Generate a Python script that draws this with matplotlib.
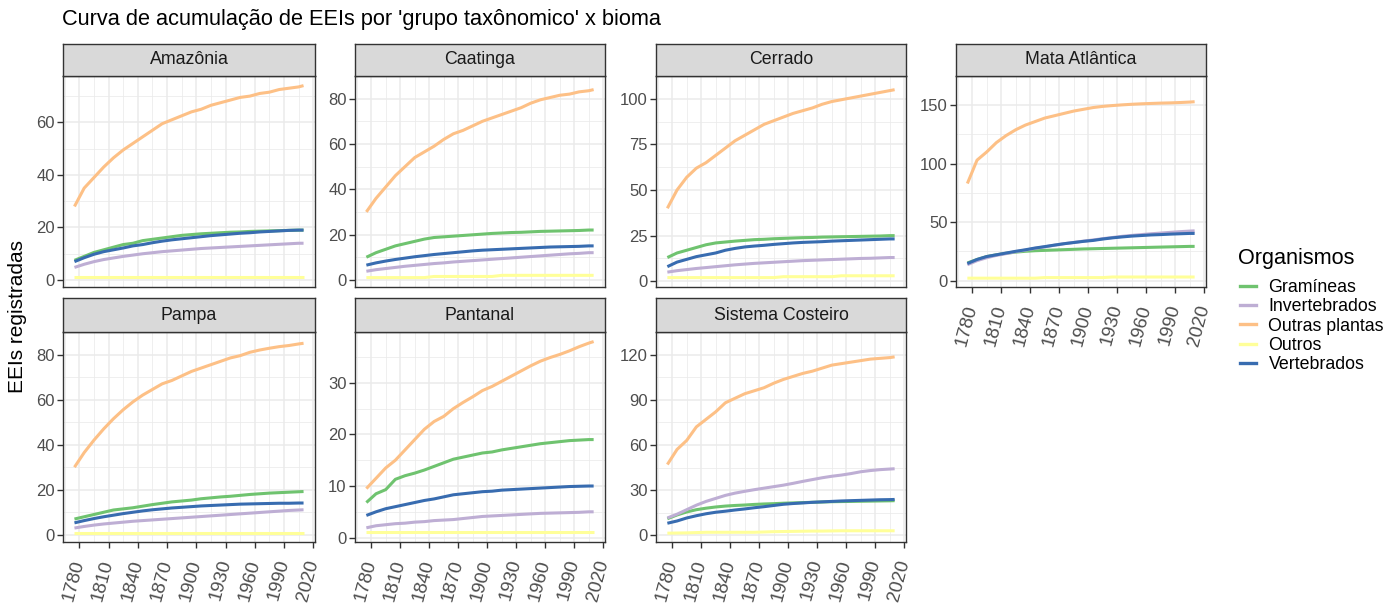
import matplotlib
matplotlib.use("Agg")
import matplotlib.pyplot as plt
from matplotlib.lines import Line2D
import numpy as np

plt.rcParams['font.family'] = ['Liberation Sans', 'DejaVu Sans']

# ---------------- data ----------------
years = [1775, 1785, 1795, 1805, 1815, 1825, 1835, 1845, 1855, 1865, 1875, 1885,
         1895, 1905, 1915, 1925, 1935, 1945, 1955, 1965, 1975, 1985, 1995, 2005, 2010]

series_names = ["Gramíneas", "Invertebrados", "Outras plantas", "Outros", "Vertebrados"]
series_colors = ["#6FC36F", "#BEAED4", "#FDC086", "#FFFF99", "#386CB0"]

biomes = ["Amazônia", "Caatinga", "Cerrado", "Mata Atlântica",
          "Pampa", "Pantanal", "Sistema Costeiro"]

# Amazônia
amz_gram = [7.5, 9, 10.5, 11.5, 12.5, 13.5, 14, 15, 15.5, 16, 16.5, 17, 17.3, 17.6, 17.8, 18, 18.2, 18.3, 18.5, 18.6, 18.7, 18.8, 18.9, 19, 19]
amz_inv = [4.8, 6, 7, 7.8, 8.4, 9, 9.5, 10, 10.4, 10.8, 11.1, 11.4, 11.7, 12, 12.2, 12.4, 12.6, 12.8, 13, 13.2, 13.4, 13.6, 13.8, 14, 14]
amz_outp = [28, 35, 39, 43, 46.5, 49.5, 52, 54.5, 57, 59.5, 61, 62.5, 64, 65, 66.5, 67.5, 68.5, 69.5, 70, 71, 71.5, 72.5, 73, 73.5, 74]
amz_outr = [1] * 25
amz_vert = [7, 8.5, 9.8, 10.8, 11.5, 12.2, 13, 13.5, 14.2, 14.8, 15.3, 15.7, 16.1, 16.5, 16.9, 17.2, 17.5, 17.8, 18, 18.3, 18.5, 18.7, 18.9, 19, 19]

# Caatinga
caa_gram = [10, 12, 13.5, 15, 16, 17, 18, 18.7, 19, 19.3, 19.6, 19.9, 20.2, 20.5, 20.7, 20.9, 21, 21.2, 21.4, 21.5, 21.6, 21.7, 21.8, 22, 22]
caa_inv = [3.8, 4.5, 5, 5.5, 6, 6.4, 6.8, 7.2, 7.5, 7.9, 8.2, 8.5, 8.8, 9.1, 9.4, 9.7, 10, 10.3, 10.6, 10.9, 11.2, 11.5, 11.7, 12, 12]
caa_outp = [30, 36, 41, 46, 50, 54, 56.5, 59, 62, 64.5, 66, 68, 70, 71.5, 73, 74.5, 76, 78, 79.5, 80.5, 81.5, 82, 83, 83.5, 84]
caa_outr = [1, 1, 1, 1, 1, 1, 1, 1.5, 1.5, 1.5, 1.5, 1.5, 1.5, 1.5, 2, 2, 2, 2, 2, 2, 2, 2, 2, 2, 2]
caa_vert = [6.5, 7.5, 8.3, 9, 9.6, 10.2, 10.7, 11.2, 11.6, 12, 12.4, 12.8, 13.1, 13.3, 13.5, 13.7, 13.9, 14.1, 14.3, 14.5, 14.6, 14.7, 14.8, 15, 15]

# Cerrado
cer_gram = [13, 15.5, 17, 18.5, 20, 21, 21.5, 22, 22.4, 22.8, 23, 23.3, 23.5, 23.7, 23.9, 24, 24.2, 24.3, 24.4, 24.5, 24.6, 24.7, 24.8, 25, 25]
cer_inv = [5, 5.8, 6.4, 7, 7.5, 8, 8.5, 9, 9.4, 9.8, 10.1, 10.4, 10.7, 11, 11.3, 11.5, 11.7, 11.9, 12.1, 12.3, 12.5, 12.6, 12.8, 13, 13]
cer_outp = [40, 50, 57, 62, 65, 69, 73, 77, 80, 83, 86, 88, 90, 92, 93.5, 95, 97, 98.5, 99.5, 100.5, 101.5, 102.5, 103.5, 104.5, 105]
cer_outr = [2, 2, 2, 2, 2, 2, 2, 2, 2, 2, 2, 2, 2.5, 2.5, 2.5, 2.5, 2.5, 2.5, 3, 3, 3, 3, 3, 3, 3]
cer_vert = [8, 10.5, 12, 13.5, 14.5, 15.5, 17, 18, 18.8, 19.3, 19.7, 20.2, 20.6, 21, 21.3, 21.5, 21.7, 22, 22.2, 22.4, 22.6, 22.8, 23, 23.2, 23.2]

# Mata Atlântica
mat_gram = [15, 18, 20.5, 22, 23.3, 24.3, 25, 25.5, 25.8, 26.1, 26.4, 26.7, 27, 27.2, 27.4, 27.6, 27.8, 28, 28.2, 28.4, 28.6, 28.8, 29, 29.2, 29.2]
mat_inv = [13.5, 17, 19.5, 21.5, 23, 24.7, 26, 27.5, 28.8, 30.2, 31.5, 32.6, 33.7, 34.7, 35.8, 36.8, 37.8, 38.6, 39.3, 40, 40.6, 41.2, 41.8, 42.3, 42.5]
mat_outp = [83, 103, 110, 118, 124, 129, 133, 136, 139, 141, 143, 145, 146.5, 148, 149, 149.7, 150.3, 150.8, 151.2, 151.5, 151.8, 152, 152.3, 152.7, 153]
mat_outr = [2, 2, 2, 2, 2, 2, 2, 2, 2.5, 2.5, 2.5, 2.5, 2.5, 2.5, 2.5, 3, 3, 3, 3, 3, 3, 3, 3, 3, 3]
mat_vert = [14.5, 18, 20.5, 22, 23.5, 25, 26.3, 27.8, 29, 30.3, 31.5, 32.5, 33.5, 34.3, 35.5, 36.5, 37.3, 38, 38.5, 39, 39.3, 39.7, 40, 40.3, 40.3]

# Pampa
pam_gram = [7, 8, 9, 10, 11, 11.5, 12, 12.7, 13.4, 14, 14.6, 15, 15.4, 16, 16.4, 16.8, 17.1, 17.5, 17.9, 18.2, 18.5, 18.7, 18.9, 19.1, 19.2]
pam_inv = [3, 3.7, 4.3, 4.8, 5.2, 5.6, 6, 6.3, 6.6, 6.9, 7.2, 7.5, 7.8, 8.1, 8.4, 8.7, 9, 9.3, 9.6, 9.9, 10.2, 10.5, 10.8, 11, 11.1]
pam_outp = [30, 36.5, 42, 47, 51.5, 55.5, 59, 62, 64.5, 67, 68.5, 70.5, 72.5, 74, 75.5, 77, 78.5, 79.5, 81, 82, 82.8, 83.5, 84, 84.7, 85]
pam_outr = [1] * 25
pam_vert = [5.3, 6.3, 7.2, 8, 8.7, 9.4, 10, 10.6, 11.1, 11.5, 11.9, 12.2, 12.5, 12.8, 13, 13.2, 13.4, 13.6, 13.7, 13.8, 13.9, 14, 14, 14.1, 14.1]

# Pantanal
pan_gram = [6.8, 8.5, 9.3, 11.3, 12, 12.5, 13.1, 13.8, 14.5, 15.2, 15.6, 16, 16.4, 16.6, 17, 17.3, 17.6, 17.9, 18.2, 18.4, 18.6, 18.8, 18.9, 19, 19]
pan_inv = [1.9, 2.3, 2.5, 2.7, 2.8, 3, 3.1, 3.3, 3.4, 3.5, 3.7, 3.9, 4.1, 4.2, 4.3, 4.4, 4.5, 4.6, 4.7, 4.75, 4.8, 4.85, 4.9, 5, 5]
pan_outp = [9.5, 11.5, 13.5, 15, 17, 19, 21, 22.5, 23.5, 25, 26.2, 27.3, 28.5, 29.3, 30.3, 31.3, 32.3, 33.3, 34.2, 34.9, 35.5, 36.2, 37, 37.7, 38]
pan_outr = [1] * 25
pan_vert = [4.3, 5, 5.6, 6, 6.4, 6.8, 7.2, 7.5, 7.9, 8.3, 8.5, 8.7, 8.9, 9.0, 9.2, 9.3, 9.4, 9.5, 9.6, 9.7, 9.8, 9.9, 9.95, 10, 10]

# Sistema Costeiro
cos_gram = [11, 13.5, 15.5, 17, 18, 18.8, 19.4, 19.8, 20.1, 20.5, 20.8, 21, 21.3, 21.5, 21.7, 21.9, 22.1, 22.3, 22.4, 22.5, 22.6, 22.7, 22.8, 22.9, 23]
cos_inv = [11.5, 14, 17, 20, 22.5, 24.5, 26.5, 28, 29.2, 30.3, 31.3, 32.3, 33.3, 34.5, 35.8, 37, 38.2, 39.2, 40, 41, 42.2, 43, 43.6, 44, 44.2]
cos_outp = [47, 57, 63, 72, 77, 82, 88, 91, 94, 96, 98, 101, 103.5, 105.5, 107.5, 109, 111, 113, 114, 115, 116, 117, 117.5, 118, 118.5]
cos_outr = [1.4, 1.5, 1.6, 1.8, 2, 2, 2, 2, 2, 2, 2.2, 2.4, 2.5, 2.6, 2.7, 2.8, 2.8, 2.9, 3, 3, 3, 3, 3, 3, 3]
cos_vert = [8, 9.5, 11.5, 13, 14.3, 15.3, 16, 16.8, 17.5, 18.3, 19, 19.8, 20.6, 21.1, 21.5, 21.9, 22.2, 22.5, 22.8, 23, 23.2, 23.4, 23.6, 23.7, 23.8]

x_ticks = [1780, 1810, 1840, 1870, 1900, 1930, 1960, 1990, 2020]
y_ticks = {
    "Amazônia": [0, 20, 40, 60],
    "Caatinga": [0, 20, 40, 60, 80],
    "Cerrado": [0, 25, 50, 75, 100],
    "Mata Atlântica": [0, 50, 100, 150],
    "Pampa": [0, 20, 40, 60, 80],
    "Pantanal": [0, 10, 20, 30],
    "Sistema Costeiro": [0, 30, 60, 90, 120],
}

data = {
    "Amazônia": [amz_gram, amz_inv, amz_outp, amz_outr, amz_vert],
    "Caatinga": [caa_gram, caa_inv, caa_outp, caa_outr, caa_vert],
    "Cerrado": [cer_gram, cer_inv, cer_outp, cer_outr, cer_vert],
    "Mata Atlântica": [mat_gram, mat_inv, mat_outp, mat_outr, mat_vert],
    "Pampa": [pam_gram, pam_inv, pam_outp, pam_outr, pam_vert],
    "Pantanal": [pan_gram, pan_inv, pan_outp, pan_outr, pan_vert],
    "Sistema Costeiro": [cos_gram, cos_inv, cos_outp, cos_outr, cos_vert],
}

# ---------------- layout ----------------
W, H = 1397, 612
fig = plt.figure(figsize=(W / 100, H / 100), dpi=100)
fig.patch.set_facecolor("white")

col_x = [(63, 315), (355, 605), (656, 906), (956, 1206)]
row_y = [(44, 76, 287), (298, 332, 542)]  # strip top, panel top, panel bottom
positions = {
    "Amazônia": (0, 0), "Caatinga": (0, 1), "Cerrado": (0, 2), "Mata Atlântica": (0, 3),
    "Pampa": (1, 0), "Pantanal": (1, 1), "Sistema Costeiro": (1, 2),
}
show_x = {"Mata Atlântica", "Pampa", "Pantanal", "Sistema Costeiro"}


def rect(x0, y0, x1, y1):
    return [x0 / W, 1 - y1 / H, (x1 - x0) / W, (y1 - y0) / H]


BORDER = "#333333"
GRID = "#EBEBEB"
TICKTXT = "#4D4D4D"

xmin, xmax = min(years), max(years)
xpad = 0.05 * (xmax - xmin)

for biome in biomes:
    r, c = positions[biome]
    x0, x1 = col_x[c]
    st, pt, pb = row_y[r]
    ax = fig.add_axes(rect(x0, pt, x1, pb))
    vals = data[biome]
    for name, col, v in zip(series_names, series_colors, vals):
        ax.plot(years, v, color=col, lw=2.2, solid_capstyle="butt", zorder=3)
    allv = np.concatenate([np.asarray(v, float) for v in vals])
    lo, hi = allv.min(), allv.max()
    ypad = 0.05 * (hi - lo)
    ax.set_ylim(lo - ypad, hi + ypad)
    ax.set_xlim(xmin - xpad, xmax + xpad)
    yt = y_ticks[biome]
    ax.set_yticks(yt)
    ax.set_yticklabels([str(t) for t in yt])
    ax.set_xticks(x_ticks)
    # minor grid
    ax.set_xticks([t + 15 for t in x_ticks[:-1]] + [x_ticks[0] - 15], minor=True)
    ystep = yt[1] - yt[0]
    ax.set_yticks([t + ystep / 2 for t in yt], minor=True)
    ax.grid(True, which="major", color=GRID, lw=1.1, zorder=0)
    ax.grid(True, which="minor", color=GRID, lw=0.55, zorder=0)
    ax.set_axisbelow(True)
    ax.tick_params(which="minor", length=0)
    ax.tick_params(axis="y", which="major", length=4, width=1, color=BORDER,
                   labelsize=12, labelcolor=TICKTXT, pad=2)
    if biome in show_x:
        ax.set_xticklabels([str(t) for t in x_ticks])
        ax.tick_params(axis="x", which="major", length=4, width=1, color=BORDER,
                       labelsize=13.5, labelcolor=TICKTXT, pad=9)
        for lab in ax.get_xticklabels():
            lab.set_rotation(75)
            lab.set_ha("right")
            lab.set_va("center")
            lab.set_rotation_mode("anchor")
    else:
        ax.tick_params(axis="x", which="major", length=0, labelbottom=False)
    for s in ax.spines.values():
        s.set_color(BORDER)
        s.set_linewidth(1.0)
    ax.set_facecolor("white")

    # strip
    sax = fig.add_axes(rect(x0, st, x1, pt))
    sax.set_facecolor("#D9D9D9")
    sax.set_xticks([])
    sax.set_yticks([])
    for s in sax.spines.values():
        s.set_color(BORDER)
        s.set_linewidth(1.0)
    sax.text(0.5, 0.5, biome, transform=sax.transAxes, ha="center", va="center",
             fontsize=12.8, color="#1A1A1A")

# titles
fig.text(62 / W, 1 - 20 / H, "Curva de acumulação de EEIs por 'grupo taxônomico' x bioma",
         ha="left", va="center", fontsize=15.7, color="black")
fig.text(18 / W, 1 - 316 / H, "EEIs registradas", rotation=90, ha="center", va="center",
         fontsize=15, color="black")

# legend
fig.text(1238 / W, 1 - 258 / H, "Organismos", ha="left", va="center",
         fontsize=15.6, color="black")
handles = [Line2D([0], [0], color=c, lw=2.4) for c in series_colors]
leg = fig.legend(handles, series_names, loc="upper left",
                 bbox_to_anchor=(1240 / W, 1 - 279 / H), frameon=False,
                 fontsize=12.8, handlelength=0.88, handletextpad=0.72,
                 labelspacing=0.13, borderaxespad=0, borderpad=0)

fig.savefig("out.png", dpi=100, facecolor="white")
